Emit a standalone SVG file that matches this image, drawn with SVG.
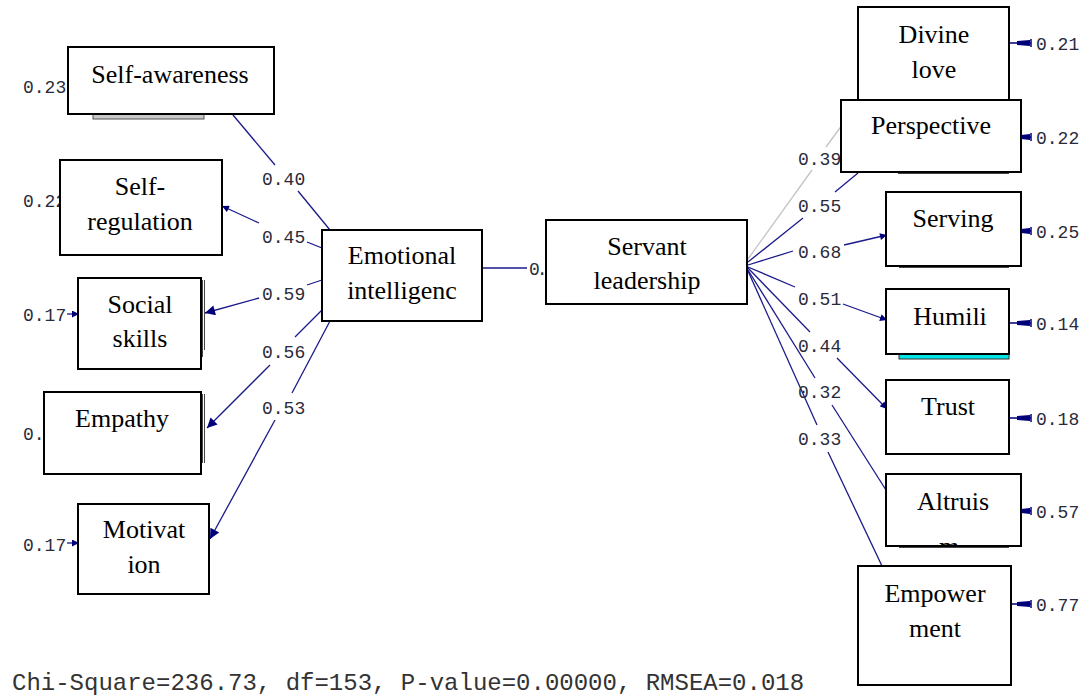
<svg xmlns="http://www.w3.org/2000/svg" width="1087" height="695" viewBox="0 0 1087 695">
<style>
.box{fill:#fff;stroke:#000;stroke-width:2}
.t{font-family:"Liberation Serif","Times New Roman",serif;font-size:26px;fill:#000;text-anchor:middle}
.n{font-family:"Liberation Mono","Courier New",monospace;font-size:18px;fill:#2a2a3a}
.e{stroke:#1a1a8a;stroke-width:1.3;fill:none}
.g{stroke:#c4c4c4;stroke-width:1.3;fill:none}
.ah{fill:#00007a}
.er{stroke:#00007a;stroke-width:1.5;fill:none}
.sh{stroke:#444;stroke-width:1;fill:none}
</style>
<defs>
<marker id="arr" viewBox="0 0 10 10" refX="10" refY="5" markerWidth="15" markerHeight="10" markerUnits="userSpaceOnUse" orient="auto">
<path d="M0,0 L10,5 L0,10 z" fill="#00007a"/>
</marker>
<marker id="arrs" viewBox="0 0 10 10" refX="10" refY="5" markerWidth="8" markerHeight="7" markerUnits="userSpaceOnUse" orient="auto">
<path d="M0,0 L10,5 L0,10 z" fill="#00007a"/>
</marker>
<clipPath id="clipAlt"><rect x="887" y="475" width="133" height="70"/></clipPath>
</defs>
<rect width="1087" height="695" fill="#fff"/>

<g id="connectors">
<path class="e" d="M233,115 L275,165"/>
<path class="e" d="M298,191 L330,230"/>
<path class="e" d="M322,248 L307,242"/>
<path class="e" d="M259,223 L222,206" marker-end="url(#arrs)"/>
<path class="e" d="M322,280 L307,285"/>
<path class="e" d="M259,298 L205,313" marker-end="url(#arr)"/>
<path class="e" d="M322,310 L295,337"/>
<path class="e" d="M270,365 L207,428" marker-end="url(#arr)"/>
<path class="e" d="M330,321 L292,393"/>
<path class="e" d="M275,420 L210,539" marker-end="url(#arr)"/>
<path class="e" d="M482,268 L527,268"/>
<path class="g" d="M748,259 L812,170"/>
<path class="g" d="M826,147 L845,121"/>
<path class="e" d="M748,262 L803,218"/>
<path class="e" d="M835,192 L858,173"/>
<path class="e" d="M748,265 L793,251"/>
<path class="e" d="M844,245 L887,235" marker-end="url(#arrs)"/>
<path class="e" d="M748,267 L795,287"/>
<path class="e" d="M843,304 L887,320" marker-end="url(#arrs)"/>
<path class="e" d="M748,268 L810,332"/>
<path class="e" d="M837,358 L887,409" marker-end="url(#arrs)"/>
<path class="e" d="M748,270 L815,378"/>
<path class="e" d="M832,405 L886,490"/>
<path class="e" d="M748,271 L817,425"/>
<path class="e" d="M828,452 L882,566"/>
<path class="e" d="M67,314 L79,314" marker-end="url(#arrs)"/>
<path class="e" d="M67,543 L79,543" marker-end="url(#arrs)"/>
<g id="err-right">
<path class="er" d="M1010,43 H1031 M1031,39 V47"/><path class="ah" d="M1017,41 L1030,40 L1030,46 L1017,45 z"/>
<path class="er" d="M1021,137 H1031 M1031,133 V141"/><path class="ah" d="M1021,135 L1030,134 L1030,140 L1021,139 z"/>
<path class="er" d="M1021,231 H1031 M1031,227 V235"/><path class="ah" d="M1021,229 L1030,228 L1030,234 L1021,233 z"/>
<path class="er" d="M1010,323 H1031 M1031,319 V327"/><path class="ah" d="M1017,321 L1030,320 L1030,326 L1017,325 z"/>
<path class="er" d="M1010,418 H1031 M1031,414 V422"/><path class="ah" d="M1017,416 L1030,415 L1030,421 L1017,420 z"/>
<path class="er" d="M1021,511 H1031 M1031,507 V515"/><path class="ah" d="M1021,509 L1030,508 L1030,514 L1021,513 z"/>
<path class="er" d="M1012,604 H1031 M1031,600 V608"/><path class="ah" d="M1017,602 L1030,601 L1030,607 L1017,606 z"/>
</g>
</g>

<g id="labels">
<text class="n" x="262" y="185">0.40</text>
<text class="n" x="262" y="243">0.45</text>
<text class="n" x="262" y="300">0.59</text>
<text class="n" x="262" y="358">0.56</text>
<text class="n" x="262" y="414">0.53</text>
<text class="n" x="529" y="275" letter-spacing="-3">0.</text>
<text class="n" x="798" y="165">0.39</text>
<text class="n" x="798" y="212">0.55</text>
<text class="n" x="798" y="258">0.68</text>
<text class="n" x="798" y="305">0.51</text>
<text class="n" x="798" y="352">0.44</text>
<text class="n" x="798" y="398">0.32</text>
<text class="n" x="798" y="445">0.33</text>
<text class="n" x="23" y="93">0.23</text>
<text class="n" x="23" y="207">0.22</text>
<text class="n" x="23" y="321">0.17</text>
<text class="n" x="23" y="440">0.</text>
<text class="n" x="23" y="551">0.17</text>
<text class="n" x="1036" y="50">0.21</text>
<text class="n" x="1036" y="144">0.22</text>
<text class="n" x="1036" y="238">0.25</text>
<text class="n" x="1036" y="330">0.14</text>
<text class="n" x="1036" y="425">0.18</text>
<text class="n" x="1036" y="518">0.57</text>
<text class="n" x="1036" y="611">0.77</text>
</g>

<g id="self-awareness">
<rect x="93" y="113" width="111" height="6" fill="#c8c8c8" stroke="#555" stroke-width="1"/>
<rect class="box" x="68" y="47" width="206" height="67"/>
<text class="t" x="170" y="83">Self-awareness</text>
</g>
<g id="self-regulation">
<rect class="box" x="60" y="160" width="162" height="95"/>
<text class="t" x="140" y="195">Self-</text>
<text class="t" x="140" y="230">regulation</text>
</g>
<g id="social-skills">
<path class="sh" d="M202.5,280 V357 M204.5,280 V350"/>
<rect class="box" x="78" y="278" width="123" height="91"/>
<text class="t" x="140" y="313">Social</text>
<text class="t" x="140" y="347">skills</text>
</g>
<g id="empathy">
<path class="sh" d="M202.5,394 V463 M204.5,394 V463"/>
<rect class="box" x="44" y="392" width="157" height="82"/>
<text class="t" x="122" y="427">Empathy</text>
</g>
<g id="motivation">
<rect class="box" x="78" y="504" width="131" height="90"/>
<text class="t" x="144" y="538">Motivat</text>
<text class="t" x="144" y="573">ion</text>
</g>
<g id="emotional-intelligence">
<rect class="box" x="322" y="230" width="160" height="91"/>
<text class="t" x="402" y="264">Emotional</text>
<text class="t" x="402" y="299">intelligenc</text>
</g>
<g id="servant-leadership">
<rect class="box" x="546" y="220" width="201" height="84"/>
<text class="t" x="647" y="255">Servant</text>
<text class="t" x="647" y="289">leadership</text>
</g>
<g id="divine-love">
<rect class="box" x="858" y="7" width="151" height="100"/>
<text class="t" x="934" y="43">Divine</text>
<text class="t" x="934" y="78">love</text>
</g>
<g id="perspective">
<path class="sh" d="M898,173.5 H1009" stroke-width="1.5"/>
<rect class="box" x="841" y="100" width="180" height="72"/>
<text class="t" x="931" y="134">Perspective</text>
</g>
<g id="serving">
<path class="sh" d="M899,267.5 H1009"/>
<rect class="box" x="886" y="192" width="135" height="74"/>
<text class="t" x="953" y="227">Serving</text>
</g>
<g id="humility">
<rect x="899" y="353" width="110" height="6" fill="#00e6e6" stroke="#333" stroke-width="1"/>
<rect class="box" x="886" y="289" width="123" height="65"/>
<text class="t" x="950" y="325">Humili</text>
</g>
<g id="trust">
<rect class="box" x="886" y="380" width="123" height="74"/>
<text class="t" x="948" y="415">Trust</text>
</g>
<g id="altruism">
<path class="sh" d="M899,547.5 H1009"/>
<rect class="box" x="886" y="474" width="135" height="72"/>
<text class="t" x="953" y="510">Altruis</text>
<text class="t" x="949" y="555" clip-path="url(#clipAlt)">m</text>
</g>
<g id="empowerment">
<rect class="box" x="858" y="566" width="153" height="119"/>
<text class="t" x="935" y="602">Empower</text>
<text class="t" x="935" y="637">ment</text>
</g>

<text x="12" y="690" style="font-family:'Liberation Mono','Courier New',monospace;font-size:24px;fill:#333">Chi-Square=236.73, df=153, P-value=0.00000, RMSEA=0.018</text>
</svg>
